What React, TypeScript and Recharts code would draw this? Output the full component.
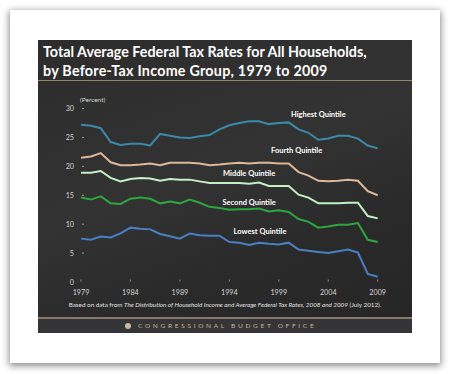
import { LineChart, Line, XAxis, YAxis, ReferenceDot } from 'recharts';

const years = [
  1979, 1980, 1981, 1982, 1983, 1984, 1985, 1986, 1987, 1988, 1989, 1990, 1991, 1992, 1993, 1994,
  1995, 1996, 1997, 1998, 1999, 2000, 2001, 2002, 2003, 2004, 2005, 2006, 2007, 2008, 2009,
];
const highest = [
  27.2, 27.0, 26.6, 24.2, 23.7, 23.9, 23.9, 23.6, 25.6, 25.3, 25.0, 24.9, 25.2, 25.4, 26.4, 27.1,
  27.5, 27.8, 27.8, 27.3, 27.5, 27.6, 26.4, 25.8, 24.6, 24.8, 25.3, 25.3, 24.8, 23.6, 23.1,
];
const fourth = [
  21.5, 21.7, 22.3, 20.7, 20.2, 20.2, 20.3, 20.5, 20.2, 20.6, 20.6, 20.6, 20.5, 20.2, 20.3, 20.5,
  20.6, 20.5, 20.6, 20.6, 20.5, 20.5, 19.0, 18.4, 17.5, 17.4, 17.5, 17.7, 17.5, 15.7, 15.0,
];
const middle = [
  18.9, 18.9, 19.2, 18.0, 17.4, 17.8, 18.0, 17.9, 17.5, 17.8, 17.7, 17.7, 17.4, 17.1, 17.1, 17.1,
  17.1, 17.0, 17.2, 16.6, 16.6, 16.6, 15.1, 14.6, 13.6, 13.6, 13.6, 13.7, 13.7, 11.4, 11.0,
];
const second = [
  14.6, 14.25, 14.8, 13.6, 13.5, 14.4, 14.6, 14.4, 13.6, 13.9, 13.6, 14.25, 13.7, 13.0, 12.8, 12.5,
  12.6, 12.6, 12.7, 12.2, 12.4, 12.1, 10.9, 10.4, 9.4, 9.6, 9.9, 9.9, 10.2, 7.3, 6.9,
];
const lowest = [
  7.5, 7.3, 7.85, 7.7, 8.4, 9.4, 9.2, 9.1, 8.3, 7.9, 7.5, 8.4, 8.1, 8.0, 8.0, 6.9,
  6.8, 6.4, 6.8, 6.6, 6.5, 6.8, 5.6, 5.4, 5.2, 5.0, 5.3, 5.6, 5.1, 1.4, 0.9,
];
const xTicks = [1979, 1984, 1989, 1994, 1999, 2004, 2009];
const yTicks = [0, 5, 10, 15, 20, 25, 30];

const data = years.map((year, i) => ({
  year,
  highest: highest[i],
  fourth: fourth[i],
  middle: middle[i],
  second: second[i],
  lowest: lowest[i],
}));

const FONT = 'Lato, "Liberation Sans", sans-serif';

const YTick = ({ x, y, payload }: any) => (
  <g>
    <text x={x - 7} y={y} textAnchor="end" dominantBaseline="central" fill="#d4d4d4" fontSize={7.2} fontFamily={FONT}>
      {payload.value}
    </text>
    {payload.value > 0 && <line x1={x + 1} x2={x + 3} y1={y} y2={y} stroke="#bbb" strokeWidth={0.8} />}
  </g>
);

const XTick = ({ x, y, payload }: any) => (
  <g>
    <line x1={x} x2={x} y1={y - 2.5} y2={y - 0.5} stroke="#aaa" strokeWidth={0.8} />
    <text x={x} y={y + 10} textAnchor="middle" dominantBaseline="central" fill="#d4d4d4" fontSize={7.2} fontFamily={FONT}>
      {payload.value}
    </text>
  </g>
);

const qLabel = (value: string) => ({
  value,
  position: 'center' as const,
  fill: '#ffffff',
  fontSize: 7.5,
  fontWeight: 700,
  fontFamily: FONT,
});

export default function App() {
  return (
    <div style={{ position: 'absolute', left: 0, top: 0, width: 450, height: 374, background: '#fff', fontFamily: FONT }}>
      <div
        style={{
          position: 'absolute', left: 10, top: 10, width: 430, height: 353, background: '#fff',
          boxShadow: '0 2px 7px 1px rgba(0,0,0,0.45)',
        }}
      />
      <div
        style={{
          position: 'absolute', left: 38, top: 40, width: 374, height: 293,
          background: 'linear-gradient(160deg, #2c2c2c 0%, #333 45%, #2a2a2a 70%, #262626 100%)',
        }}
      />
      <div
        style={{
          position: 'absolute', left: 43, top: 43, color: '#fff', fontWeight: 700, fontSize: 14.3,
          lineHeight: '18.5px', whiteSpace: 'nowrap',
        }}
      >
        Total Average Federal Tax Rates for All Households,
        <br />
        <span style={{ letterSpacing: 0.25 }}>by Before-Tax Income Group, 1979 to 2009</span>
      </div>
      <div style={{ position: 'absolute', left: 38, top: 80, width: 374, height: 1, background: '#8f8668' }} />
      <div style={{ position: 'absolute', left: 80, top: 96, color: '#d4d4d4', fontSize: 6.5 }}>(Percent)</div>
      <div
        style={{
          position: 'absolute', left: 38, width: 374, top: 300.5, textAlign: 'center', color: '#e0e0e0',
          fontSize: 6.3, whiteSpace: 'nowrap',
        }}
      >
        Based on data from <i>The Distribution of Household Income and Average Federal Tax Rates, 2008 and 2009</i> (July 2012).
      </div>
      <div style={{ position: 'absolute', left: 38, top: 317, width: 374, height: 2, background: '#85796a' }} />
      <div style={{ position: 'absolute', left: 38, top: 319, width: 374, height: 14, background: '#353537' }} />
      <div
        style={{
          position: 'absolute', left: 125, top: 323, width: 6, height: 6, borderRadius: 3, background: '#c9b89a',
        }}
      />
      <div
        style={{
          position: 'absolute', left: 138, top: 321.5, color: '#c9b89a', fontSize: 6.5, letterSpacing: 2.7,
          whiteSpace: 'nowrap',
        }}
      >
        CONGRESSIONAL BUDGET OFFICE
      </div>
      <div style={{ position: 'absolute', left: 0, top: 0 }}>
        <LineChart width={450} height={374} data={data} margin={{ top: 108.5, right: 72.3, bottom: 72, left: 0 }}>
          <XAxis
            dataKey="year"
            type="number"
            domain={[1979, 2009]}
            ticks={xTicks}
            axisLine={false}
            tickLine={false}
            tickSize={0}
            tickMargin={0}
            height={20}
            tick={<XTick />}
            interval={0}
          />
          <YAxis
            domain={[0, 30]}
            ticks={yTicks}
            axisLine={false}
            tickLine={false}
            tickSize={0}
            tickMargin={0}
            width={81}
            tick={<YTick />}
            interval={0}
          />
          <Line dataKey="highest" stroke="#3a8aa8" strokeWidth={2} dot={false} isAnimationActive={false} />
          <Line dataKey="fourth" stroke="#dcb99a" strokeWidth={2} dot={false} isAnimationActive={false} />
          <Line dataKey="middle" stroke="#c4f0c4" strokeWidth={2} dot={false} isAnimationActive={false} />
          <Line dataKey="second" stroke="#2ea640" strokeWidth={2} dot={false} isAnimationActive={false} />
          <Line dataKey="lowest" stroke="#4a7fc4" strokeWidth={2} dot={false} isAnimationActive={false} />
          <ReferenceDot x={2003} y={29.0} r={0} stroke="none" label={qLabel('Highest Quintile')} />
          <ReferenceDot x={2000.8} y={22.8} r={0} stroke="none" label={qLabel('Fourth Quintile')} />
          <ReferenceDot x={1996} y={18.8} r={0} stroke="none" label={qLabel('Middle Quintile')} />
          <ReferenceDot x={1996} y={13.8} r={0} stroke="none" label={qLabel('Second Quintile')} />
          <ReferenceDot x={1997.1} y={8.8} r={0} stroke="none" label={qLabel('Lowest Quintile')} />
        </LineChart>
      </div>
    </div>
  );
}
